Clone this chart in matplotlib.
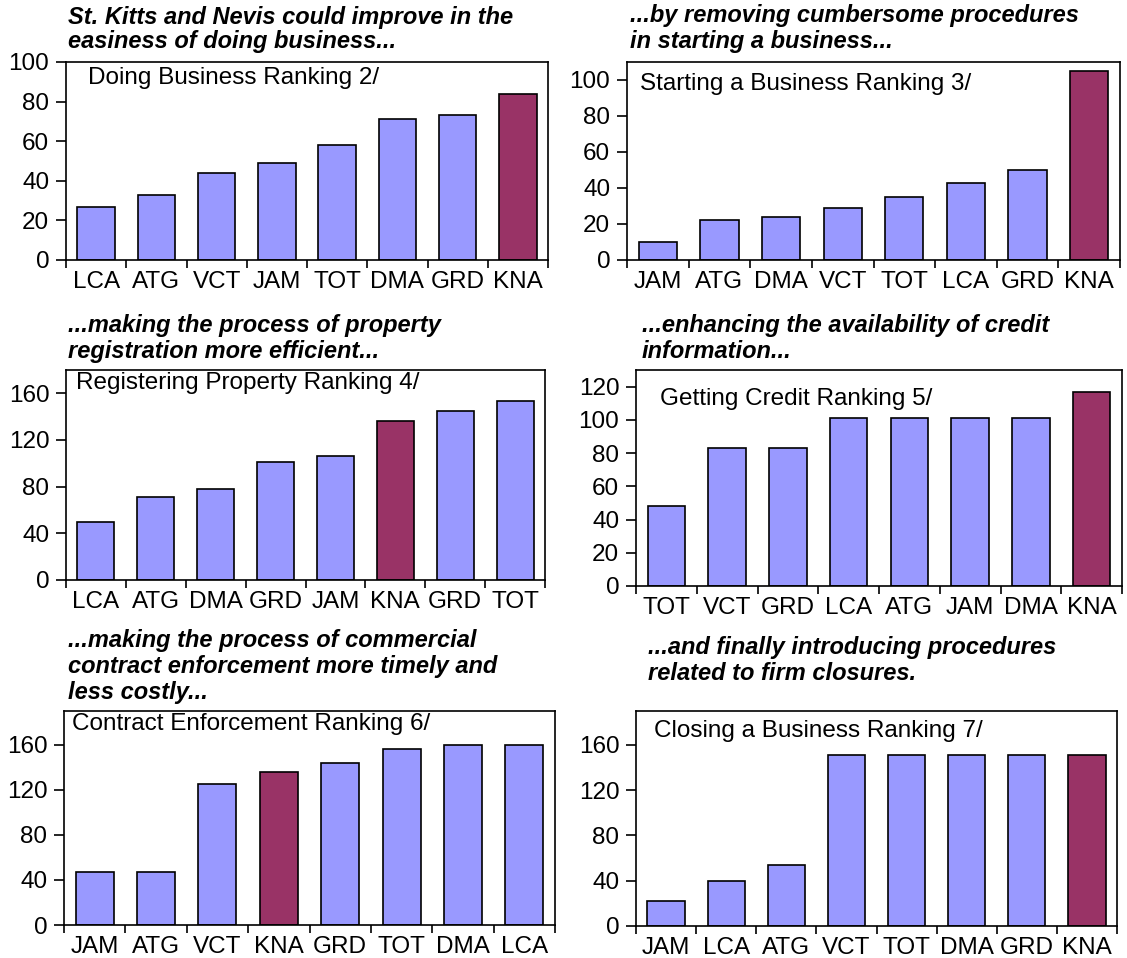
import matplotlib
matplotlib.use("Agg")
import matplotlib.pyplot as plt

plt.rcParams['font.family'] = ['Liberation Sans', 'DejaVu Sans']

W, H = 1127, 958

BLUE = '#9999ff'
KNA_COLOR = '#993366'

# panel data
doing_cats = ['LCA', 'ATG', 'VCT', 'JAM', 'TOT', 'DMA', 'GRD', 'KNA']
doing_vals = [27, 33, 44, 49, 58, 71, 73, 84]

starting_cats = ['JAM', 'ATG', 'DMA', 'VCT', 'TOT', 'LCA', 'GRD', 'KNA']
starting_vals = [10, 22, 24, 29, 35, 43, 50, 105]

property_cats = ['LCA', 'ATG', 'DMA', 'GRD', 'JAM', 'KNA', 'GRD', 'TOT']
property_vals = [50, 71, 78, 101, 106, 136, 145, 153]

credit_cats = ['TOT', 'VCT', 'GRD', 'LCA', 'ATG', 'JAM', 'DMA', 'KNA']
credit_vals = [48, 83, 83, 101, 101, 101, 101, 117]

contract_cats = ['JAM', 'ATG', 'VCT', 'KNA', 'GRD', 'TOT', 'DMA', 'LCA']
contract_vals = [47, 47, 125, 136, 144, 156, 160, 160]

closing_cats = ['JAM', 'LCA', 'ATG', 'VCT', 'TOT', 'DMA', 'GRD', 'KNA']
closing_vals = [22, 40, 54, 151, 151, 151, 151, 151]

titles = [
    ['St. Kitts and Nevis could improve in the', 'easiness of doing business...'],
    ['...by removing cumbersome procedures', 'in starting a business...'],
    ['...making the process of property', 'registration more efficient...'],
    ['...enhancing the availability of credit', 'information...'],
    ['...making the process of commercial', 'contract enforcement more timely and',
     'less costly...'],
    ['...and finally introducing procedures', 'related to firm closures.'],
]
labels = [
    'Doing Business Ranking 2/',
    'Starting a Business Ranking 3/',
    'Registering Property Ranking 4/',
    'Getting Credit Ranking 5/',
    'Contract Enforcement Ranking 6/',
    'Closing a Business Ranking 7/',
]

panels = [
    (doing_cats, doing_vals, 100, range(0, 101, 20)),
    (starting_cats, starting_vals, 110, range(0, 101, 20)),
    (property_cats, property_vals, 180, range(0, 161, 40)),
    (credit_cats, credit_vals, 130, range(0, 121, 20)),
    (contract_cats, contract_vals, 190, range(0, 161, 40)),
    (closing_cats, closing_vals, 190, range(0, 161, 40)),
]

# axes boxes in pixels: left, top, right, bottom
boxes = [
    (66, 62, 548, 260),
    (627, 62, 1120, 260),
    (66, 370, 545, 580),
    (636, 370, 1122, 586),
    (64, 711, 555, 925),
    (636, 711, 1117, 926),
]
# title x and baseline of each line, inner label position (x, y center)
title_x = [68, 630, 68, 642, 68, 648]
title_base = [[24, 48], [22, 48], [332, 358], [332, 358], [647, 673, 699], [654, 680]]
label_pos = [(88, 78), (640, 84), (76, 383), (660, 399), (72, 724), (654, 731)]

fig = plt.figure(figsize=(W / 100, H / 100), dpi=100)

for i, (cats, vals, ymax, yticks) in enumerate(panels):
    l, t, r, b = boxes[i]
    ax = fig.add_axes([l / W, 1 - b / H, (r - l) / W, (b - t) / H])
    colors = [KNA_COLOR if c == 'KNA' else BLUE for c in cats]
    x = range(len(cats))
    ax.bar(x, vals, width=0.62, color=colors, edgecolor='black', linewidth=1.2)
    ax.set_xlim(-0.5, len(cats) - 0.5)
    ax.set_ylim(0, ymax)
    ax.set_yticks(list(yticks))
    ax.set_xticks([k - 0.5 for k in range(len(cats) + 1)])
    ax.set_xticklabels([])
    ax.set_xticks(list(x), minor=True)
    ax.set_xticklabels(cats, minor=True)
    ax.tick_params(axis='x', which='major', direction='out', length=6, width=1.2)
    ax.tick_params(axis='x', which='minor', length=0, labelsize=17.5, pad=8)
    ax.tick_params(axis='y', direction='out', length=7, width=1.2, labelsize=17.5, pad=5)
    for s in ax.spines.values():
        s.set_linewidth(1.2)
    fig.text(label_pos[i][0] / W, 1 - label_pos[i][1] / H, labels[i],
             fontsize=17.5, va='center', ha='left')
    for line, yb in zip(titles[i], title_base[i]):
        fig.text(title_x[i] / W, 1 - yb / H, line, fontsize=17,
                 fontweight='bold', fontstyle='italic', va='baseline', ha='left')

fig.savefig('out.png', dpi=100)
